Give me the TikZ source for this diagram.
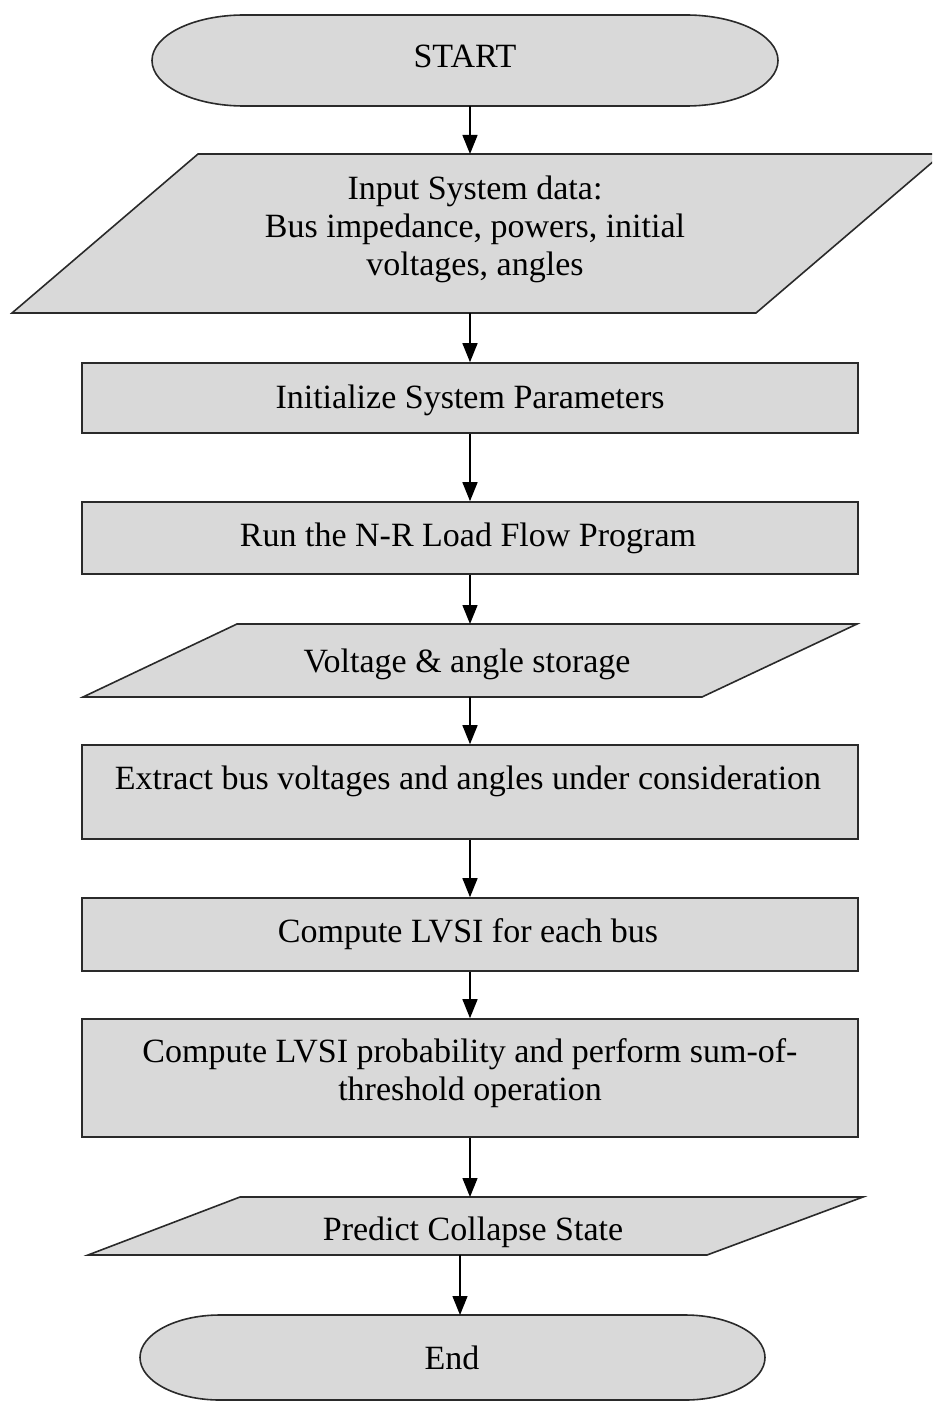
\documentclass[tikz,border=0pt]{standalone}
\usepackage{fontspec}
\setmainfont{Liberation Serif}
\usetikzlibrary{arrows.meta}
\definecolor{boxgray}{HTML}{D9D9D9}
\definecolor{edgegray}{HTML}{2A2A2A}
\begin{document}
\begin{tikzpicture}[x=1pt,y=-1pt,
  shp/.style={draw=edgegray, fill=boxgray, line width=1.6pt, line join=miter},
  boxnode/.style={shp, rectangle, inner sep=0pt, minimum width=776pt},
  lbl/.style={font=\fontsize{34}{38}\selectfont, align=center, inner sep=0pt, anchor=base},
  arr/.style={draw=black, line width=1.4pt, -{Triangle[length=19pt,width=15pt]}},
]
\useasboundingbox (0,0) rectangle (932,1402);
\clip (0,0) rectangle (932,1402);

% START terminator
\path[shp] (244,15) -- (686,15) arc[start angle=-90, end angle=90, x radius=92, y radius=45.5]
  -- (244,106) arc[start angle=90, end angle=270, x radius=92, y radius=45.5] -- cycle;
\node[lbl] (start) at (465,68) {START};
\coordinate (start-s) at (470,106);

% Input parallelogram
\path[shp] (198,154) -- (942,154) -- (756,313) -- (12,313) -- cycle;
\node[lbl] (input) at (475,275) {Input System data:\\Bus impedance, powers, initial\\voltages, angles};
\coordinate (input-n) at (470,154);
\coordinate (input-s) at (470,313);

% Initialize
\node[boxnode, minimum height=70pt] (init) at (470,398) {};
\node[lbl] (initt) at (470,408) {Initialize System Parameters};

% Run N-R
\node[boxnode, minimum height=72pt] (run) at (470,538) {};
\node[lbl] (runt) at (468,546) {Run the N-R Load Flow Program};

% Voltage storage parallelogram
\path[shp] (237,624) -- (857,624) -- (702,697) -- (83,697) -- cycle;
\node[lbl] (volt) at (467,672) {Voltage \& angle storage};
\coordinate (volt-n) at (470,624);
\coordinate (volt-s) at (470,697);

% Extract
\node[boxnode, minimum height=94pt] (extract) at (470,792) {};
\node[lbl] (extractt) at (468,789) {Extract bus voltages and angles under consideration};

% Compute LVSI
\node[boxnode, minimum height=73pt] (lvsi) at (470,934.5) {};
\node[lbl] (lvsit) at (468,942) {Compute LVSI for each bus};

% Compute probability
\node[boxnode, minimum height=118pt] (prob) at (470,1078) {};
\node[lbl] (probt) at (470,1100) {Compute LVSI probability and perform sum-of-\\threshold operation};

% Predict parallelogram
\path[shp] (240,1197) -- (863,1197) -- (707,1255) -- (88,1255) -- cycle;
\node[lbl] (pred) at (473,1240) {Predict Collapse State};
\coordinate (pred-n) at (470,1197);
\coordinate (pred-s) at (460,1255);

% End terminator
\path[shp] (220,1315) -- (685,1315) arc[start angle=-90, end angle=90, x radius=80, y radius=42.5]
  -- (220,1400) arc[start angle=90, end angle=270, x radius=80, y radius=42.5] -- cycle;
\node[lbl] (endt) at (452,1369) {End};
\coordinate (end-n) at (460,1315);

% connectors
\draw[arr] (start-s) -- (input-n);
\draw[arr] (input-s) -- (init.north);
\draw[arr] (init.south) -- (run.north);
\draw[arr] (run.south) -- (volt-n);
\draw[arr] (volt-s) -- (extract.north);
\draw[arr] (extract.south) -- (lvsi.north);
\draw[arr] (lvsi.south) -- (prob.north);
\draw[arr] (prob.south) -- (pred-n);
\draw[arr] (pred-s) -- (end-n);
\end{tikzpicture}
\end{document}
